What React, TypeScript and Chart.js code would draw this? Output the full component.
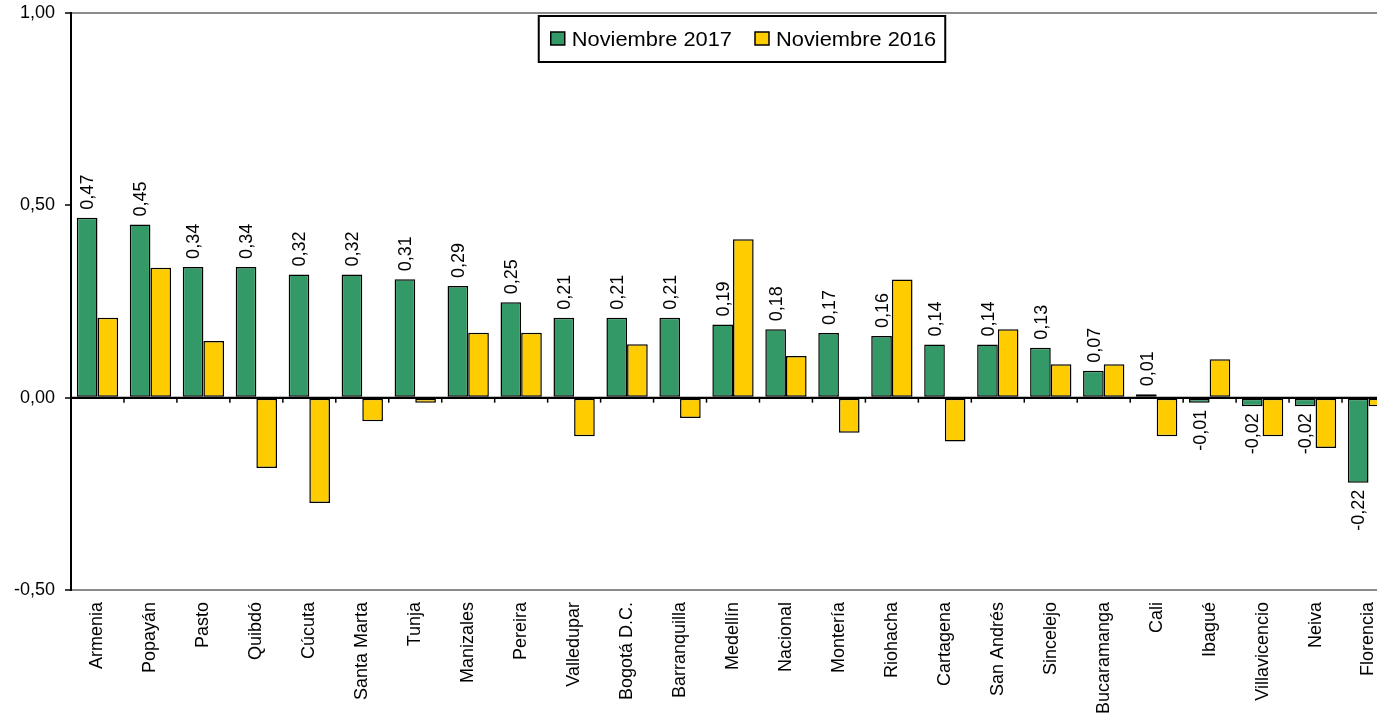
import React, { useEffect, useRef } from "react";
import { Chart, registerables } from "chart.js";

Chart.register(...registerables);

const categories = [
  "Armenia", "Popayán", "Pasto", "Quibdó", "Cúcuta", "Santa Marta", "Tunja",
  "Manizales", "Pereira", "Valledupar", "Bogotá D.C.", "Barranquilla", "Medellín",
  "Nacional", "Montería", "Riohacha", "Cartagena", "San Andrés", "Sincelejo",
  "Bucaramanga", "Cali", "Ibagué", "Villavicencio", "Neiva", "Florencia",
];
const nov2017 = [
  0.468, 0.45, 0.34, 0.34, 0.32, 0.32, 0.308, 0.29, 0.248, 0.208, 0.208, 0.208, 0.19,
  0.178, 0.168, 0.16, 0.138, 0.138, 0.13, 0.07, 0.009, -0.013, -0.022, -0.022, -0.221,
];
const nov2016 = [
  0.208, 0.338, 0.147, -0.183, -0.274, -0.061, -0.013, 0.169, 0.169, -0.10, 0.139, -0.053, 0.412,
  0.108, -0.091, 0.307, -0.114, 0.178, 0.087, 0.087, -0.10, 0.10, -0.10, -0.131, -0.022,
];
const seriesLabels = ["Noviembre 2017", "Noviembre 2016"];
const seriesColors = ["#339966", "#FFCC00"];
const yMin = -0.5;
const yMax = 1.0;
const yStep = 0.5;

const FONT = '"Liberation Sans", Arial, sans-serif';
const fmt = (v: number) => {
  const s = v.toFixed(2);
  return (s === "-0.00" ? "0.00" : s).replace(".", ",");
};

const dataLabelPlugin = {
  id: "dataLabels",
  afterDatasetsDraw(chart: any) {
    const ctx = chart.ctx;
    const xs = chart.scales.x;
    const ys = chart.scales.y;
    const y0 = ys.getPixelForValue(0);
    // zero line with category tick marks
    ctx.save();
    ctx.strokeStyle = "#000";
    ctx.lineWidth = 2;
    ctx.beginPath();
    ctx.moveTo(chart.chartArea.left, y0);
    ctx.lineTo(chart.chartArea.right, y0);
    ctx.stroke();
    ctx.lineWidth = 1.5;
    for (let i = 1; i < categories.length; i++) {
      const bx = (xs.getPixelForValue(i - 1) + xs.getPixelForValue(i)) / 2;
      ctx.beginPath();
      ctx.moveTo(bx, y0);
      ctx.lineTo(bx, y0 + 5);
      ctx.stroke();
    }
    ctx.restore();

    const meta = chart.getDatasetMeta(0);
    ctx.save();
    ctx.font = "18px " + FONT;
    ctx.fillStyle = "#000";
    meta.data.forEach((bar: any, i: number) => {
      const v = nov2017[i];
      const { x, y } = bar.getProps(["x", "y"], true);
      ctx.save();
      ctx.translate(x + 1, v >= 0 ? y - 8 : y + 7);
      ctx.rotate(-Math.PI / 2);
      ctx.scale(1, 1.05);
      ctx.textBaseline = "middle";
      ctx.textAlign = v >= 0 ? "left" : "right";
      ctx.fillText(fmt(v), 0, 0);
      ctx.restore();
    });
    ctx.restore();
  },
};

const legendPlugin = {
  id: "boxLegend",
  afterDraw(chart: any) {
    const { ctx, chartArea } = chart;
    ctx.save();
    ctx.font = "21px " + FONT;
    const sq = 14;
    const gapSqText = 7;
    const itemGap = 23;
    const padL = 12;
    const padR = 9;
    const sx = 1.04;
    const widths = seriesLabels.map((l) => ctx.measureText(l).width * sx);
    const boxW = padL + padR + itemGap + widths[0] + widths[1] + 2 * (sq + gapSqText);
    const boxH = 46;
    const cx = chartArea.left + 671;
    const left = cx - boxW / 2;
    const top = chartArea.top + 3;
    ctx.fillStyle = "#fff";
    ctx.fillRect(left, top, boxW, boxH);
    ctx.strokeStyle = "#000";
    ctx.lineWidth = 2;
    ctx.strokeRect(left, top, boxW, boxH);
    let x = left + padL;
    const cy = top + boxH / 2;
    seriesLabels.forEach((label, i) => {
      ctx.fillStyle = seriesColors[i];
      ctx.fillRect(x, cy - 7, sq, 13);
      ctx.lineWidth = 1.5;
      ctx.strokeStyle = "#000";
      ctx.strokeRect(x, cy - 7, sq, 13);
      x += sq + gapSqText;
      ctx.save();
      ctx.translate(x, cy + 1);
      ctx.scale(sx, 1);
      ctx.fillStyle = "#000";
      ctx.textBaseline = "middle";
      ctx.textAlign = "left";
      ctx.fillText(label, 0, 0);
      ctx.restore();
      x += widths[i] + itemGap;
    });
    ctx.restore();
  },
};

export default function App() {
  const canvasRef = useRef<HTMLCanvasElement | null>(null);

  useEffect(() => {
    const canvas = canvasRef.current;
    if (!canvas) return;
    Chart.defaults.font.family = FONT;
    const chart = new Chart(canvas, {
      type: "bar",
      data: {
        labels: categories,
        datasets: [
          {
            label: seriesLabels[0],
            data: nov2017,
            backgroundColor: seriesColors[0],
            borderColor: "#000",
            borderWidth: 1.5,
            borderSkipped: false,
          },
          {
            label: seriesLabels[1],
            data: nov2016,
            backgroundColor: seriesColors[1],
            borderColor: "#000",
            borderWidth: 1.5,
            borderSkipped: false,
          },
        ],
      },
      options: {
        responsive: false,
        animation: false,
        devicePixelRatio: 1,
        layout: { padding: { top: 13, left: 0, right: 0, bottom: 0 } },
        datasets: {
          bar: { categoryPercentage: 0.78, barPercentage: 1.0 },
        },
        plugins: {
          legend: { display: false },
          tooltip: { enabled: false },
        },
        scales: {
          x: {
            grid: { display: false, drawTicks: false },
            border: { display: true, color: "#8c8c8c", width: 2 },
            ticks: {
              autoSkip: false,
              maxRotation: 90,
              minRotation: 90,
              padding: 12,
              color: "#000",
              font: { size: 18, family: FONT },
            },
            afterFit(scale: any) {
              scale.height = 127;
              scale.paddingLeft = 0;
              scale.paddingRight = 0;
            },
          },
          y: {
            min: yMin,
            max: yMax,
            ticks: {
              stepSize: yStep,
              padding: 10,
              color: "#000",
              font: { size: 18, family: FONT },
              callback: (v: any) => fmt(Number(v)),
            },
            grid: {
              drawTicks: true,
              tickLength: 6,
              tickColor: "#000",
              tickWidth: 1.5,
              color: (c: any) => {
                const v = c.tick ? c.tick.value : null;
                if (v === 0) return "#000";
                if (v === yMax) return "#8c8c8c";
                return "rgba(0,0,0,0)";
              },
              lineWidth: 2,
            },
            border: { display: true, color: "#000", width: 2 },
            afterFit(scale: any) {
              scale.width = 71;
              scale.paddingTop = 0;
              scale.paddingBottom = 0;
            },
          },
        },
      },
      plugins: [dataLabelPlugin, legendPlugin],
    });
    return () => chart.destroy();
  }, []);

  return (
    <div
      style={{
        position: "absolute",
        left: 0,
        top: 0,
        width: 1377,
        height: 717,
        overflow: "hidden",
        background: "#fff",
      }}
    >
      <canvas ref={canvasRef} width={1395} height={717} style={{ display: "block" }} />
    </div>
  );
}
